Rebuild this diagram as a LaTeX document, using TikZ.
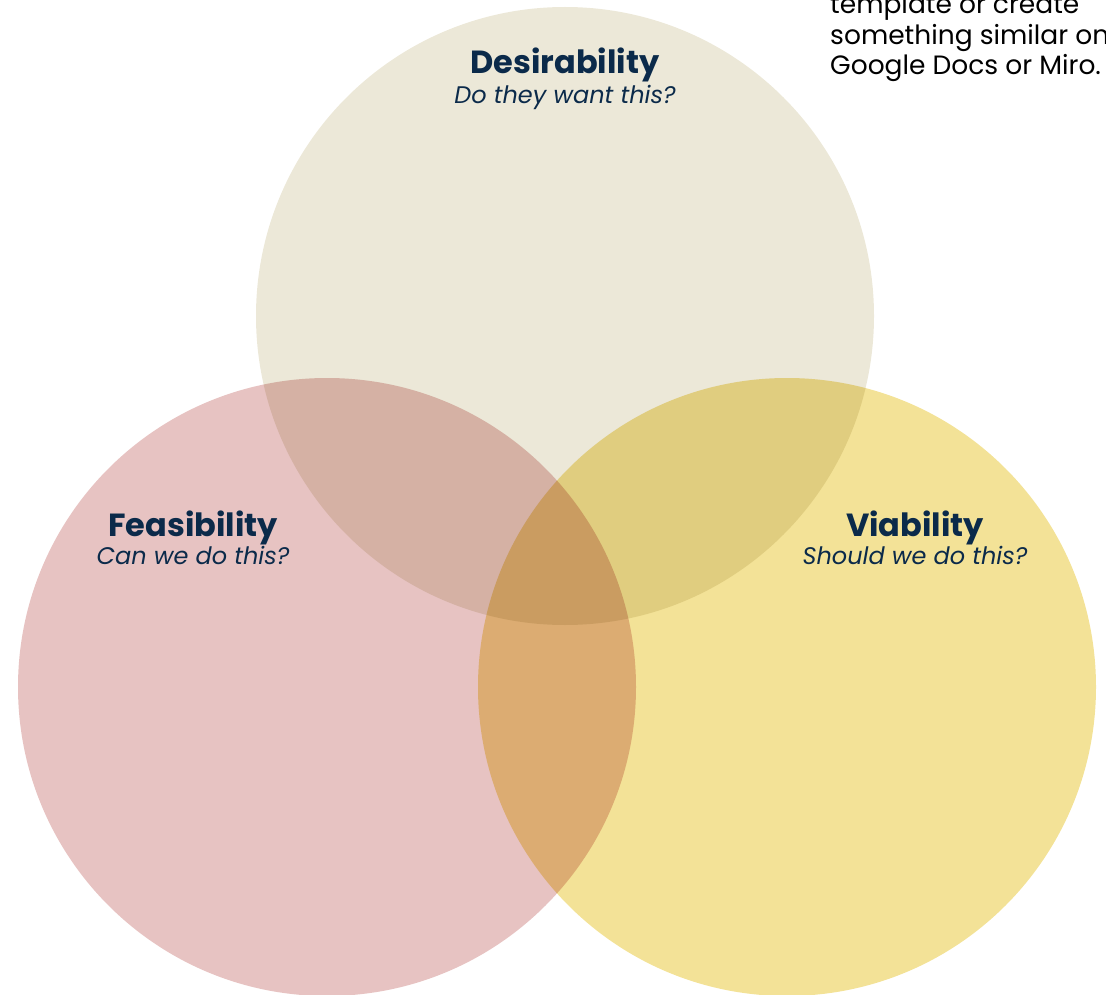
\documentclass[tikz,border=0pt]{standalone}
\usepackage{fontspec}
\setmainfont{Poppins}
\usetikzlibrary{positioning}
\definecolor{desfill}{HTML}{ECE8D8}
\definecolor{feafill}{HTML}{E7C3C2}
\definecolor{viafill}{HTML}{F3E297}
\definecolor{ink}{HTML}{0B2A4A}

\begin{document}
\begin{tikzpicture}[x=1pt,y=-1pt,
    venn/.style={circle, minimum size=618pt, inner sep=0pt},
    title/.style={anchor=base, text=ink, font=\fontsize{32}{34}\selectfont\bfseries},
    sub/.style={anchor=base, text=ink, font=\fontsize{24}{26}\selectfont\itshape}]
            \useasboundingbox (0,0) rectangle (1106,995);
            \clip (0,0) rectangle (1106,995);
            % the three circles, darker where they overlap
            \begin{scope}[blend group=multiply]
            \node [venn, fill=desfill] (des) at (565,316) {};
            \node [venn, fill=feafill] (fea) at (327,687) {};
            \node [venn, fill=viafill] (via) at (787,687) {};
            \end{scope}
            \node [title] (des_t) at (565,74) {Desirability};
            \node [sub] (des_s) at (565,104) {Do they want this?};
            \node [title] (fea_t) at (193,536) {Feasibility};
            \node [sub] (fea_s) at (193,564) {Can we do this?};
            \node [title] (via_t) at (915,536) {Viability};
            \node [sub] (via_s) at (915,564) {Should we do this?};
            % note in the corner
            \node [anchor=base west, align=left, inner sep=0pt,
                   font=\fontsize{26.5}{30.5}\selectfont] (note) at (830,75)
                {template or create\\something similar on\\Google Docs or Miro.};
            \end{tikzpicture}
\end{document}
